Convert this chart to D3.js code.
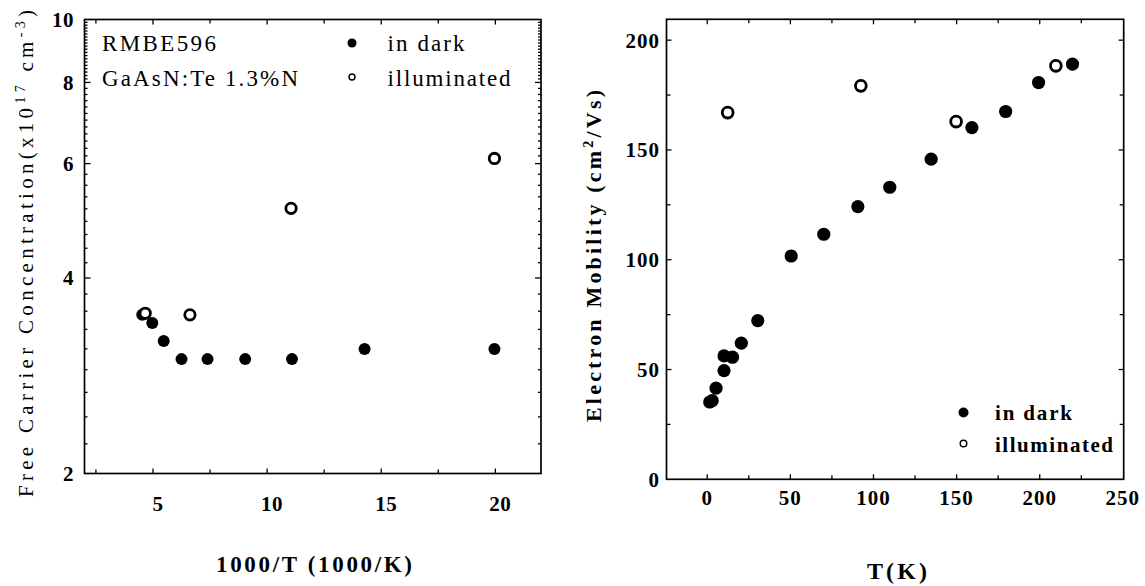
<!DOCTYPE html>
<html lang="en">
<head>
    <meta charset="UTF-8">
    <title>GaAsN:Te carrier concentration and mobility</title>
    <script src="https://cdn.jsdelivr.net/npm/d3@7/dist/d3.min.js"></script>
    <style>
        body { margin: 0; background: #fff; }
        svg { display: block; font-family: "Liberation Serif", "Times New Roman", serif; }
        .frame { fill: none; stroke: #000; stroke-width: 1.7px; }
    </style>
</head>
<body>
<script>
    const width = 1145;
    const height = 586;

    // left panel: free carrier concentration vs 1000/T
    const invTDark = [4.53, 4.97, 5.47, 6.25, 7.39, 9.04, 11.09, 14.27, 19.96];
    const nDark = [3.51, 3.41, 3.20, 3.00, 3.00, 3.00, 3.00, 3.11, 3.11];
    const invTIll = [4.66, 6.62, 11.05, 19.96];
    const nIll = [3.53, 3.51, 5.12, 6.11];

    const leftXTicks = [5, 10, 15, 20];
    const leftXMinor = [2.5, 7.5, 12.5, 17.5];
    const leftYTicks = [2, 4, 6, 8, 10];

    // right panel: electron mobility vs T
    const tDark = [1.5, 3, 5.3, 10.1, 10.1, 15.2, 20.5, 30.4, 50.5, 70.1, 90.6, 109.8, 134.7, 159.2, 179.5, 199.3, 219.7];
    const muDark = [35.2, 35.8, 41.5, 49.5, 56.2, 55.6, 62, 72.3, 101.7, 111.6, 124.2, 133.0, 145.8, 160.2, 167.5, 180.7, 189.1];
    const tIll = [12.3, 92.4, 149.7, 209.7];
    const muIll = [167, 179.2, 162.9, 188.3];

    const rightXTicks = [0, 50, 100, 150, 200, 250];
    const rightXMinor = [25, 75, 125, 175, 225];
    const rightYTicks = [0, 50, 100, 150, 200];
    const rightYMinor = [25, 75, 125, 175];

    const svg = d3.select('body').append('svg')
        .attr('width', width)
        .attr('height', height);

    // inward ticks on both sides of a frame
    function ticksY(g, scale, vals, xa, xb, len) {
        [[xa, len], [xb, -len]].forEach(([x, l]) => {
            g.selectAll(null).data(vals).enter().append('line')
                .attr('x1', x).attr('x2', x + l)
                .attr('y1', d => scale(d)).attr('y2', d => scale(d))
                .attr('stroke', '#000').attr('stroke-width', 1.3);
        });
    }
    function ticksX(g, scale, vals, ya, yb, len) {
        [[ya, -len], [yb, len]].forEach(([y, l]) => {
            g.selectAll(null).data(vals).enter().append('line')
                .attr('y1', y).attr('y2', y + l)
                .attr('x1', d => scale(d)).attr('x2', d => scale(d))
                .attr('stroke', '#000').attr('stroke-width', 1.3);
        });
    }

    // ---------- left panel ----------
    const L = {x0: 84.5, x1: 541, y0: 19.5, y1: 473.5};
    const xL = d3.scaleLinear().domain([2, 22]).range([L.x0, L.x1]);
    const yL = d3.scaleLog().domain([2, 10]).range([L.y1, L.y0]);

    // log minor ticks, finer towards the top as in the original
    let leftYMinor = [];
    [[2, 4, 9], [4, 6, 9], [6, 8, 12], [8, 10, 20]].forEach(([a, b, n]) => {
        for (let i = 1; i < n; i++) leftYMinor.push(a + (b - a) * i / n);
    });

    const gl = svg.append('g');

    ticksY(gl, yL, leftYTicks.slice(1, -1), L.x0, L.x1, 6);
    ticksY(gl, yL, leftYMinor, L.x0, L.x1, 3);
    ticksX(gl, xL, leftXTicks, L.y1, L.y0, 5);
    ticksX(gl, xL, leftXMinor, L.y1, L.y0, 4);

    gl.append('rect').attr('class', 'frame')
        .attr('x', L.x0).attr('y', L.y0)
        .attr('width', L.x1 - L.x0).attr('height', L.y1 - L.y0);

    gl.selectAll('.ylab').data(leftYTicks).enter().append('text')
        .attr('x', 74).attr('y', d => yL(d)).attr('dy', '0.35em')
        .attr('text-anchor', 'end')
        .attr('font-size', 21).attr('font-weight', 'bold').attr('letter-spacing', 0.5)
        .text(d => d);
    gl.selectAll('.xlab').data(leftXTicks).enter().append('text')
        .attr('x', d => xL(d) + 5).attr('y', 511)
        .attr('text-anchor', 'middle')
        .attr('font-size', 21).attr('font-weight', 'bold').attr('letter-spacing', 0.5)
        .text(d => d);

    // points
    gl.selectAll('.dk').data(invTDark.map((v, i) => [v, nDark[i]])).enter().append('circle')
        .attr('cx', d => xL(d[0])).attr('cy', d => yL(d[1])).attr('r', 6)
        .attr('fill', '#000');
    gl.selectAll('.il').data(invTIll.map((v, i) => [v, nIll[i]])).enter().append('circle')
        .attr('cx', d => xL(d[0])).attr('cy', d => yL(d[1])).attr('r', 5.2)
        .attr('fill', '#fff').attr('stroke', '#000').attr('stroke-width', 2.8);

    // legend and sample text
    const legL = [
        {t: 'RMBE596', x: 102, y: 51, w: 114},
        {t: 'GaAsN:Te 1.3%N', x: 102, y: 86, w: 196},
        {t: 'in dark', x: 387.5, y: 51, w: 77},
        {t: 'illuminated', x: 387.5, y: 86, w: 123}
    ];
    gl.selectAll('.leg').data(legL).enter().append('text')
        .attr('x', d => d.x).attr('y', d => d.y)
        .attr('font-size', 23)
        .attr('textLength', d => d.w).attr('lengthAdjust', 'spacing')
        .text(d => d.t);
    gl.append('circle').attr('cx', 352).attr('cy', 43).attr('r', 4.5).attr('fill', '#000');
    gl.append('circle').attr('cx', 352).attr('cy', 77).attr('r', 3).attr('fill', '#fff')
        .attr('stroke', '#000').attr('stroke-width', 1.4);

    // axis titles
    gl.append('text')
        .attr('x', 314).attr('y', 572).attr('text-anchor', 'middle')
        .attr('font-size', 23).attr('font-weight', 'bold')
        .attr('textLength', 196).attr('lengthAdjust', 'spacing')
        .text('1000/T  (1000/K)');

    const yTitleL = gl.append('text')
        .attr('transform', 'translate(33,253.5) rotate(-90)')
        .attr('text-anchor', 'middle')
        .attr('font-size', 21)
        .attr('textLength', 487).attr('lengthAdjust', 'spacing');
    yTitleL.append('tspan').text('Free Carrier Concentration(x10');
    yTitleL.append('tspan').attr('dy', -8).attr('font-size', 14).text('17');
    yTitleL.append('tspan').attr('dy', 8).text(' cm');
    yTitleL.append('tspan').attr('dy', -8).attr('font-size', 14).text('-3');
    yTitleL.append('tspan').attr('dy', 8).text(')');

    // ---------- right panel ----------
    const R = {x0: 666.5, x1: 1123.7, y0: 19.3, y1: 479.3};
    const xR = d3.scaleLinear().domain([-24.5, 250.5]).range([R.x0, R.x1]);
    const yR = d3.scaleLinear().domain([0, 209.5]).range([R.y1, R.y0]);

    const gr = svg.append('g');
    ticksY(gr, yR, rightYTicks.slice(1), R.x0, R.x1, 5);
    ticksY(gr, yR, rightYMinor, R.x0, R.x1, 4);
    ticksX(gr, xR, rightXTicks.slice(0, -1), R.y1, R.y0, 5);
    ticksX(gr, xR, rightXMinor, R.y1, R.y0, 4);

    gr.append('rect').attr('class', 'frame')
        .attr('x', R.x0).attr('y', R.y0)
        .attr('width', R.x1 - R.x0).attr('height', R.y1 - R.y0);

    gr.selectAll('.ylab').data(rightYTicks).enter().append('text')
        .attr('x', 660).attr('y', d => yR(d)).attr('dy', '0.35em')
        .attr('text-anchor', 'end')
        .attr('font-size', 21).attr('font-weight', 'bold').attr('letter-spacing', 1)
        .text(d => d);
    gr.selectAll('.xlab').data(rightXTicks).enter().append('text')
        .attr('x', d => xR(d)).attr('y', 505)
        .attr('text-anchor', 'middle')
        .attr('font-size', 21).attr('font-weight', 'bold').attr('letter-spacing', 1)
        .text(d => d);

    gr.selectAll('.dk').data(tDark.map((v, i) => [v, muDark[i]])).enter().append('circle')
        .attr('cx', d => xR(d[0])).attr('cy', d => yR(d[1])).attr('r', 6.6)
        .attr('fill', '#000');
    gr.selectAll('.il').data(tIll.map((v, i) => [v, muIll[i]])).enter().append('circle')
        .attr('cx', d => xR(d[0])).attr('cy', d => yR(d[1])).attr('r', 5.4)
        .attr('fill', '#fff').attr('stroke', '#000').attr('stroke-width', 2.8);

    // legend
    gr.append('circle').attr('cx', 963.5).attr('cy', 412.5).attr('r', 5).attr('fill', '#000');
    gr.append('circle').attr('cx', 963.5).attr('cy', 443.5).attr('r', 3.3).attr('fill', '#fff')
        .attr('stroke', '#000').attr('stroke-width', 1.4);
    gr.selectAll('.leg').data([
        {t: 'in dark', y: 420, w: 77},
        {t: 'illuminated', y: 452, w: 118}
    ]).enter().append('text')
        .attr('x', 995).attr('y', d => d.y)
        .attr('font-size', 21).attr('font-weight', 'bold')
        .attr('textLength', d => d.w).attr('lengthAdjust', 'spacing')
        .text(d => d.t);

    // axis titles
    gr.append('text')
        .attr('x', 897).attr('y', 579).attr('text-anchor', 'middle')
        .attr('font-size', 24).attr('font-weight', 'bold')
        .attr('textLength', 60).attr('lengthAdjust', 'spacing')
        .text('T(K)');

    const yTitleR = gr.append('text')
        .attr('transform', 'translate(601,256) rotate(-90)')
        .attr('text-anchor', 'middle')
        .attr('font-size', 22).attr('font-weight', 'bold')
        .attr('textLength', 332).attr('lengthAdjust', 'spacing');
    yTitleR.append('tspan').text('Electron Mobility (cm');
    yTitleR.append('tspan').attr('dy', -8).attr('font-size', 14).text('2');
    yTitleR.append('tspan').attr('dy', 8).text('/Vs)');
</script>
</body>
</html>
